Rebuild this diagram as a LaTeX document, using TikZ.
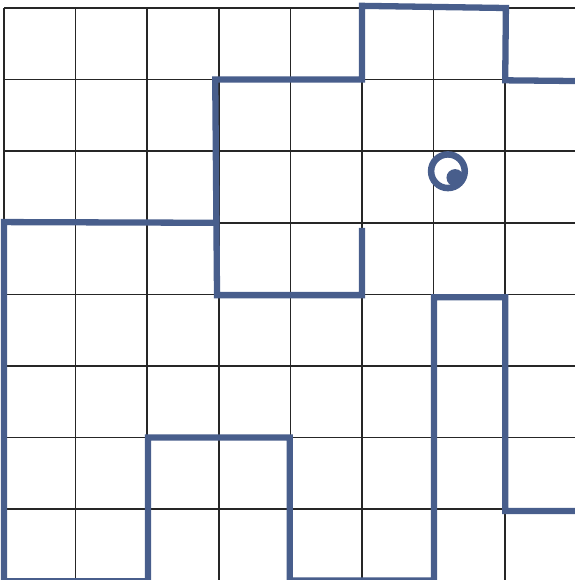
\documentclass[tikz,border=0pt]{standalone}
\usetikzlibrary{calc}
\definecolor{wallblue}{RGB}{72,94,140}

\begin{document}
\begin{tikzpicture}[x=1cm, y=1cm]
  \tikzset{
    gridline/.style={black!85, line width=0.6pt},
    wall/.style={wallblue, line width=2.5pt, line join=miter},
  }
  \useasboundingbox (-0.056,0.011) rectangle (7.975,8.112);

  % 8x8 grid
  \foreach \i in {0,...,8} {
    \draw[gridline] (\i,0) -- (\i,8);
    \draw[gridline] (0,\i) -- (8,\i);
  }

  % upper wall: pocket below, step on top
  \coordinate (P1) at (5,4.93);
  \coordinate (P2) at (5,3.99);
  \coordinate (P3) at (2.975,3.99);
  \coordinate (P4) at (2.95,7);
  \coordinate (P5) at (5,7);
  \coordinate (P6) at (5,8.03);
  \coordinate (P7) at (7.01,8);
  \coordinate (P8) at (7,6.99);
  \coordinate (P9) at (8,6.98);
  \draw[wall] (P1)--(P2)--(P3)--(P4)--(P5)--(P6)--(P7)--(P8)--(P9);

  % lower wall: left side, bottom bumps, right column
  \coordinate (Q1) at (2.99,5);
  \coordinate (Q2) at (0,5.01);
  \coordinate (Q3) at (0,-0.005);
  \coordinate (Q4) at (2.01,-0.005);
  \coordinate (Q5) at (2.01,2);
  \coordinate (Q6) at (3.99,2);
  \coordinate (Q7) at (3.99,0.005);
  \coordinate (Q8) at (6.005,0.005);
  \coordinate (Q9) at (6.005,3.96);
  \coordinate (Q10) at (7,3.96);
  \coordinate (Q11) at (7,0.975);
  \coordinate (Q12) at (8,0.975);
  \draw[wall] (Q1)--(Q2)--(Q3)--(Q4)--(Q5)--(Q6)--(Q7)--(Q8)--(Q9)--(Q10)--(Q11)--(Q12);

  % eye marker
  \coordinate (eye) at (6.2,5.72);
  \coordinate (pupil) at (6.3,5.63);
  \draw[wallblue, line width=2.6pt] (eye) circle (0.235);
  \fill[wallblue] (pupil) circle (0.12);
\end{tikzpicture}
\end{document}
